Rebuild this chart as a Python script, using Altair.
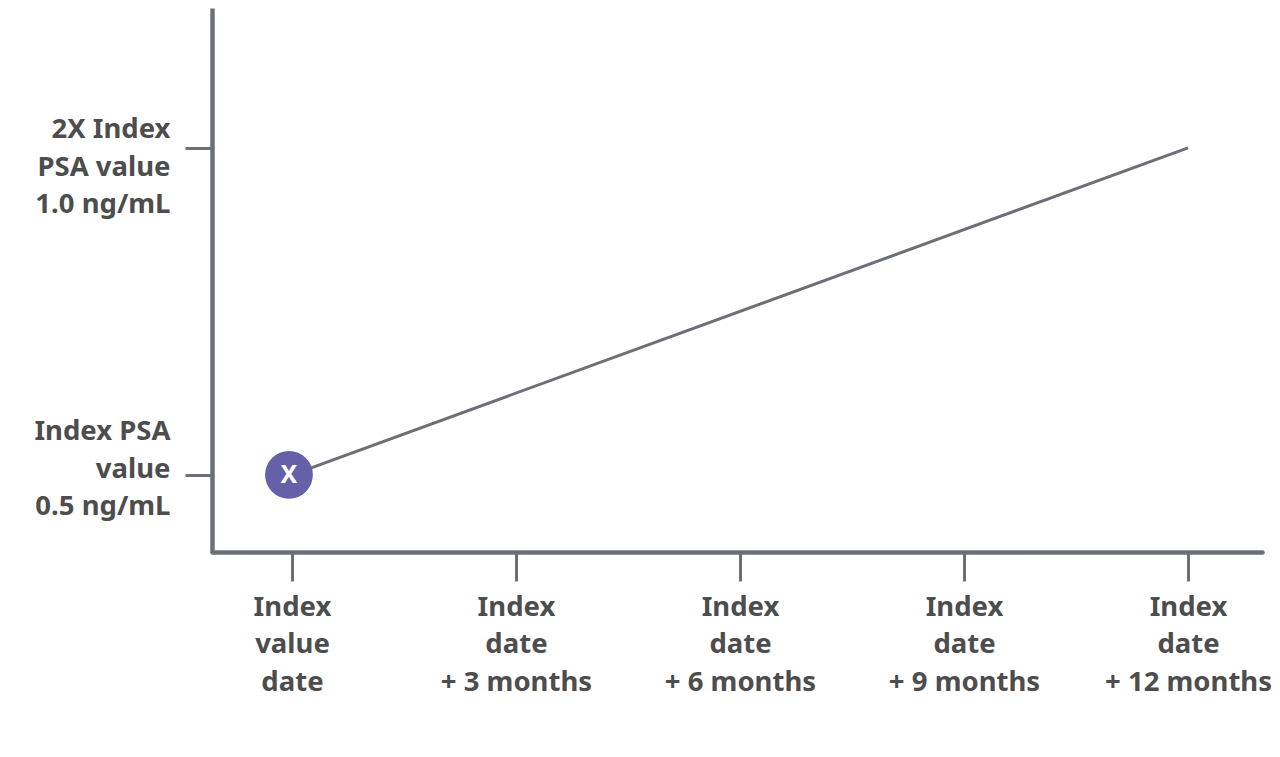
import altair as alt
import pandas as pd

# data
months = [0, 12]
psa = [0.5, 1.0]
x_ticks = [0, 3, 6, 9, 12]
x_labels = ["Index\nvalue\ndate", "Index\ndate\n+ 3 months", "Index\ndate\n+ 6 months",
            "Index\ndate\n+ 9 months", "Index\ndate\n+ 12 months"]
y_ticks = [0.5, 1.0]
y_labels = ["Index PSA\nvalue\n0.5 ng/mL", "2X Index\nPSA value\n1.0 ng/mL"]
marker_month = [0]
marker_psa = [0.5]
marker_text = ["X"]

AXIS = "#6c7076"
TEXT = "#4d4d4d"
FONT = "Noto Sans"
FS = 27.5

line_df = pd.DataFrame({"m": months, "psa": psa})
pt_df = pd.DataFrame({"m": marker_month, "psa": marker_psa, "t": marker_text})

xlab = "{" + ",".join(f"{v}: {repr(l)}" for v, l in zip(x_ticks, x_labels)) + "}"
ylab = "{" + ",".join(f"'{v}': {repr(l)}" for v, l in zip(y_ticks, y_labels)) + "}"

x_scale = alt.Scale(domain=[-1.071, 12.991], nice=False, zero=False)
y_scale = alt.Scale(domain=[0.382, 1.214], nice=False, zero=False)

x_axis = alt.Axis(
    values=x_ticks, title=None, grid=False,
    labelExpr=f"split({xlab}[datum.value], '\\n')",
    labelFont=FONT, labelFontSize=FS, labelFontWeight="bold", labelColor=TEXT,
    labelLineHeight=37.5, labelAlign="center", labelBaseline="top",
    labelPadding=12, labelLimit=0,
    domainColor=AXIS, domainWidth=4.5, domainCap="round",
    tickColor=AXIS, tickWidth=3, tickSize=29,
)
y_axis = alt.Axis(
    values=y_ticks, title=None, grid=False,
    labelExpr=f"split({ylab}[format(datum.value, '.1f') == '0.5' ? '0.5' : '1.0'], '\\n')",
    labelFont=FONT, labelFontSize=FS, labelFontWeight="bold", labelColor=TEXT,
    labelLineHeight=37.5, labelAlign="right", labelBaseline="middle",
    labelPadding=15, labelLimit=0,
    labelOffset=alt.condition("datum.value > 0.75", alt.value(-18), alt.value(-43)),
    domainColor=AXIS, domainWidth=4.5,
    tickColor=AXIS, tickWidth=3, tickSize=27,
)

line = alt.Chart(line_df).mark_line(color=AXIS, strokeWidth=3).encode(
    x=alt.X("m:Q", scale=x_scale, axis=x_axis),
    y=alt.Y("psa:Q", scale=y_scale, axis=y_axis),
)
dot = alt.Chart(pt_df).mark_circle(color="#6561a8", opacity=1, size=2290, xOffset=-3).encode(
    x="m:Q", y="psa:Q",
)
label = alt.Chart(pt_df).mark_text(
    color="white", font=FONT, fontSize=25, fontWeight="bold", xOffset=-3, baseline="middle", align="center"
).encode(x="m:Q", y="psa:Q", text="t:N")

chart = alt.layer(line, dot, label).properties(
    width=1050, height=544,
    autosize=alt.AutoSizeParams(type="none"),
    padding={"left": 204, "top": 0, "right": 10, "bottom": 190},
    background="white",
).configure_view(strokeWidth=0)

chart.save("out.html", embed_options={"renderer": "svg", "actions": False})
